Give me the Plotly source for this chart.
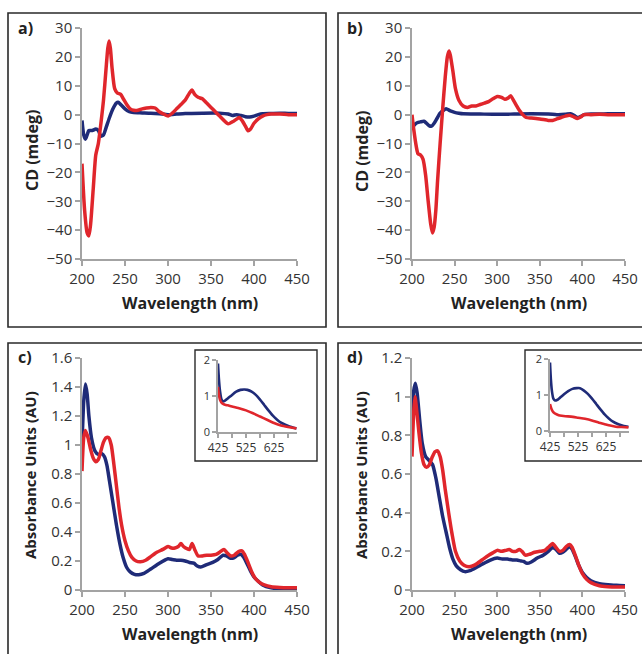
import plotly.graph_objects as go

# ---------------- data ----------------
# Panel a (CD)
a_red_x = [200,203,206,208,210,213,216,219,222,225,228,230,231.5,233,235,238,241,245,248,252,256,260,265,270,275,280,285,290,295,300,305,310,315,320,325,328,331,335,340,345,350,355,360,365,370,375,380,383,386,390,393,396,400,405,410,415,420,430,440,450]
a_red_y = [-17,-33,-41,-42,-38,-26,-14,-10,-3,5,16,23,25.5,23,16,9,7.5,7,5.5,3.5,2,1.5,1.5,2,2.3,2.5,2.3,1,0.2,-0.5,0.5,2,3.5,5,7.5,8.5,7,6,5.5,4,2.5,1,-0.5,-2,-3.2,-2.5,-1.5,-1,-2,-4,-5.6,-5,-3,-1.5,-0.5,0,0.2,0.2,0,0]
a_blue_x = [200,202,204,206,208,212,216,219,222,225,228,232,236,240,242,245,250,255,260,270,280,290,300,310,320,340,360,370,375,380,385,390,395,400,405,410,420,430,440,450]
a_blue_y = [-2,-7,-8.5,-7,-5.5,-5.5,-5,-5.5,-7.5,-7,-4.5,-1,2,4,4.3,3.5,2,1,0.7,0.6,0.5,0.3,0,0.2,0.4,0.5,0.5,0.2,-0.3,0,-0.3,-0.7,-0.8,-0.5,0,0.3,0.4,0.5,0.4,0.4]

# Panel b (CD)
b_red_x = [200,202,205,207,210,213,216,219,222,224,226,228,230,233,236,239,241.5,243.5,245,248,251,255,260,265,270,275,280,285,290,295,300,305,309,313,316,319,322,326,330,334,340,350,360,365,370,375,380,385,390,394,398,402,410,420,430,440,450]
b_red_y = [0,-5,-11,-13.5,-14,-15.5,-21,-30,-38,-41,-39,-33,-23,-10,2,13,20,22,20.5,15,9,5,3,2.5,3,3,3.5,4,4.5,5.5,6.3,6,5.3,5.8,6.5,5,3.5,1.5,0,-1,-1.2,-1.5,-2,-2,-1.5,-1,-0.5,-0.2,-0.8,-1.3,-0.8,0,0,0.1,0,0,0]
b_blue_x = [200,203,206,210,214,217,220,223,226,229,233,237,240,245,250,255,260,280,300,320,340,360,370,380,386,390,394,398,402,410,420,430,440,450]
b_blue_y = [-4.5,-3.5,-2.8,-2.5,-2.3,-3,-3.8,-4,-3,-1.5,0.5,1.5,2,1.3,0.8,0.5,0.3,0.2,0.1,0.2,0.3,0.2,0,0.1,0.3,-0.2,-1,-0.6,0,0.2,0.2,0.3,0.3,0.3]

# Panel c (absorbance)
c_blue_x = [200,202,204,206,208,211,215,219,223,226,229,232,236,240,244,248,252,256,261,266,272,280,290,300,305,310,315,320,325,330,334,338,345,352,358,364,368,372,376,381,385,388,392,396,400,405,410,420,430,440,450]
c_blue_y = [1.0,1.3,1.42,1.35,1.2,1.05,0.96,0.935,0.94,0.92,0.86,0.75,0.6,0.45,0.32,0.22,0.155,0.125,0.108,0.105,0.115,0.145,0.185,0.215,0.21,0.205,0.205,0.2,0.19,0.185,0.165,0.158,0.175,0.19,0.21,0.24,0.235,0.22,0.22,0.24,0.245,0.225,0.18,0.13,0.09,0.06,0.035,0.015,0.008,0.006,0.006]
c_red_x = [200,202,204,207,210,213,216,219,222,225,228,231,234,237,240,243,246,250,254,258,263,268,274,280,287,294,300,304,308,312,315,318,322,325,328,331,335,340,345,350,356,360,365,369,373,377,382,386,389,393,397,401,406,412,420,430,440,450]
c_red_y = [0.82,1.05,1.1,1.05,0.97,0.91,0.885,0.9,0.96,1.02,1.05,1.05,1.0,0.87,0.72,0.57,0.45,0.34,0.27,0.225,0.2,0.195,0.205,0.23,0.26,0.28,0.3,0.29,0.29,0.3,0.32,0.3,0.285,0.28,0.32,0.28,0.235,0.235,0.24,0.24,0.245,0.26,0.28,0.255,0.235,0.24,0.265,0.27,0.245,0.19,0.13,0.085,0.055,0.035,0.022,0.017,0.015,0.015]

# Panel d (absorbance)
d_blue_x = [200,202,204,206,209,212,216,220,224,228,232,236,240,244,248,252,257,262,268,275,283,292,300,306,312,318,323,328,331,335,340,347,354,360,365,369,373,377,381,385,388,392,396,400,405,410,420,430,440,450]
d_blue_y = [0.9,1.03,1.07,1.02,0.88,0.76,0.69,0.67,0.65,0.58,0.48,0.38,0.3,0.22,0.16,0.125,0.105,0.095,0.1,0.115,0.135,0.155,0.165,0.16,0.16,0.155,0.155,0.15,0.148,0.138,0.145,0.165,0.18,0.2,0.22,0.21,0.19,0.195,0.21,0.225,0.21,0.17,0.125,0.09,0.065,0.048,0.033,0.027,0.024,0.022]
d_red_x = [200,202,203.5,205,208,211,214,217,220,224,227,230,233,236,239,243,247,251,256,261,267,274,282,290,296,300,305,310,314,318,322,326,329,333,338,344,350,356,361,365,369,373,377,381,385,388,392,396,400,405,410,420,430,440,450]
d_red_y = [0.69,0.92,1.0,0.95,0.82,0.71,0.65,0.635,0.645,0.69,0.715,0.72,0.69,0.62,0.52,0.4,0.29,0.2,0.15,0.128,0.12,0.13,0.155,0.18,0.195,0.205,0.2,0.205,0.21,0.2,0.2,0.21,0.2,0.18,0.185,0.195,0.2,0.205,0.225,0.24,0.22,0.2,0.205,0.225,0.235,0.22,0.175,0.125,0.085,0.055,0.038,0.022,0.017,0.015,0.015]

# Insets (visible range)
ci_blue_x = [425,428,432,437,443,450,460,475,490,505,520,530,545,560,575,590,605,620,635,650,665,680,695,705]
ci_blue_y = [1.9,1.5,1.15,0.92,0.85,0.87,0.93,1.03,1.12,1.17,1.18,1.17,1.12,1.03,0.9,0.75,0.6,0.46,0.35,0.26,0.2,0.15,0.12,0.1]
ci_red_x = [425,428,432,437,443,450,460,475,500,525,550,575,600,625,650,675,690,705]
ci_red_y = [1.25,1.05,0.9,0.82,0.78,0.76,0.74,0.71,0.66,0.6,0.52,0.43,0.34,0.25,0.18,0.14,0.12,0.1]
di_blue_x = [425,428,432,437,443,450,460,475,490,505,520,532,545,560,575,590,605,620,635,650,665,680,695,705]
di_blue_y = [1.9,1.45,1.1,0.9,0.85,0.86,0.92,1.02,1.11,1.17,1.19,1.19,1.13,1.03,0.9,0.75,0.6,0.46,0.35,0.26,0.2,0.16,0.13,0.12]
di_red_x = [425,430,435,440,450,460,480,500,525,550,580,600,620,640,660,680,705]
di_red_y = [0.75,0.62,0.54,0.5,0.46,0.43,0.41,0.4,0.37,0.34,0.28,0.23,0.19,0.15,0.12,0.11,0.1]

main_ticks_x = [200, 250, 300, 350, 400, 450]
inset_tickvals = [425, 475, 525, 575, 625, 675]
inset_ticktext = ["425", "", "525", "", "625", ""]

# ---------------- layout helpers ----------------
W, H = 642, 654
def px(v):
    return v / W
def py(v):
    return 1 - v / H

BLUE = "#1f2b78"
RED = "#e0262c"
AXC = "#a3a3a3"
TXT = "#333333"
FONT = "Open Sans"

fig = go.Figure()

def add(xs, ys, col, xa, ya, w=3.5):
    fig.add_trace(go.Scatter(x=xs, y=ys, mode="lines", xaxis=xa, yaxis=ya,
                             line=dict(color=col, width=w, shape="spline", smoothing=0.6),
                             showlegend=False, hoverinfo="skip"))

add(a_blue_x, a_blue_y, BLUE, "x", "y")
add(a_red_x, a_red_y, RED, "x", "y")
add(b_blue_x, b_blue_y, BLUE, "x2", "y2")
add(b_red_x, b_red_y, RED, "x2", "y2")
add(c_blue_x, c_blue_y, BLUE, "x3", "y3")
add(c_red_x, c_red_y, RED, "x3", "y3")
add(d_blue_x, d_blue_y, BLUE, "x4", "y4")
add(d_red_x, d_red_y, RED, "x4", "y4")
add(ci_blue_x, ci_blue_y, BLUE, "x5", "y5", 2.6)
add(ci_red_x, ci_red_y, RED, "x5", "y5", 2.6)
add(di_blue_x, di_blue_y, BLUE, "x6", "y6", 2.6)
add(di_red_x, di_red_y, RED, "x6", "y6", 2.6)

def ax(domain, rng, anchor, tickvals=None, dtick=None, ticktext=None, size=15, ticklen=5):
    d = dict(domain=domain, range=rng, anchor=anchor, showline=True, linecolor=AXC,
             linewidth=1.5, ticks="outside", ticklen=ticklen, tickcolor=AXC, tickwidth=1.5,
             showgrid=False, zeroline=False, fixedrange=True, automargin=False,
             tickfont=dict(family=FONT, size=size, color=TXT))
    if tickvals is not None:
        d["tickmode"] = "array"
        d["tickvals"] = tickvals
        if ticktext is not None:
            d["ticktext"] = ticktext
    if dtick is not None:
        d["tick0"] = rng[0]
        d["dtick"] = dtick
    return d

xl, xr = px(82), px(297)
xl2, xr2 = px(412), px(625)
ytop = [py(259), py(28)]
ybot = [py(590), py(358)]

fig.update_layout(
    width=W, height=H, margin=dict(l=0, r=0, t=0, b=0, pad=0, autoexpand=False),
    paper_bgcolor="white", plot_bgcolor="rgba(0,0,0,0)",
    xaxis=ax([xl, xr], [200, 450], "y", tickvals=main_ticks_x),
    yaxis=ax(ytop, [-50, 30], "x", dtick=10),
    xaxis2=ax([xl2, xr2], [200, 450], "y2", tickvals=main_ticks_x),
    yaxis2=ax(ytop, [-50, 30], "x2", dtick=10),
    xaxis3=ax([xl, xr], [200, 450], "y3", tickvals=main_ticks_x),
    yaxis3=ax(ybot, [0, 1.6], "x3", dtick=0.2),
    xaxis4=ax([xl2, xr2], [200, 450], "y4", tickvals=main_ticks_x),
    yaxis4=ax(ybot, [0, 1.2], "x4", dtick=0.2),
    xaxis5=ax([px(218), px(297)], [425, 707], "y5", tickvals=inset_tickvals, ticktext=inset_ticktext, size=12, ticklen=4),
    yaxis5=ax([py(432), py(360)], [0, 2], "x5", dtick=1, size=11, ticklen=4),
    xaxis6=ax([px(550), px(629)], [425, 707], "y6", tickvals=inset_tickvals, ticktext=inset_ticktext, size=12, ticklen=4),
    yaxis6=ax([py(431), py(359)], [0, 2], "x6", dtick=1, size=11, ticklen=4),
)

# panel borders and inset borders
def rect(x0, y0, x1, y1, w=1.6):
    fig.add_shape(type="rect", xref="paper", yref="paper",
                  x0=px(x0), x1=px(x1), y0=py(y1), y1=py(y0),
                  line=dict(color="#2a2a2a", width=w), fillcolor="rgba(0,0,0,0)", layer="above")

rect(8, 13, 326, 327)
rect(338, 13, 660, 327)
rect(8, 343, 326, 670)
rect(338, 343, 660, 670)
rect(195, 350, 317, 461, 1.4)
rect(525, 350, 660, 461, 1.4)

def label(text, x, y, size=15, angle=0):
    fig.add_annotation(text=text, x=px(x), y=py(y), xref="paper", yref="paper",
                       showarrow=False, textangle=angle, xanchor="center", yanchor="middle",
                       font=dict(family=FONT, size=size, color="#222222"))

for t, x, y in [("a)", 25, 28), ("b)", 355, 28), ("c)", 25, 357), ("d)", 355, 357)]:
    label("<b>%s</b>" % t, x, y, 16)
for x, y in [(190, 303), (519, 303), (190, 634), (519, 634)]:
    label("<b>Wavelength (nm)</b>", x, y, 16)
label("<b>CD (mdeg)</b>", 32, 151, 16, -90)
label("<b>CD (mdeg)</b>", 362, 151, 16, -90)
label("<b>Absorbance Units (AU)</b>", 30, 475, 15, -90)
label("<b>Absorbance Units (AU)</b>", 361, 475, 15, -90)

# remove the browser's default body margin so the 642x654 figure fills the window exactly
fig.write_html("out.html", config={"displayModeBar": False},
               post_script="document.body.style.margin='0';document.body.style.overflow='hidden';")
